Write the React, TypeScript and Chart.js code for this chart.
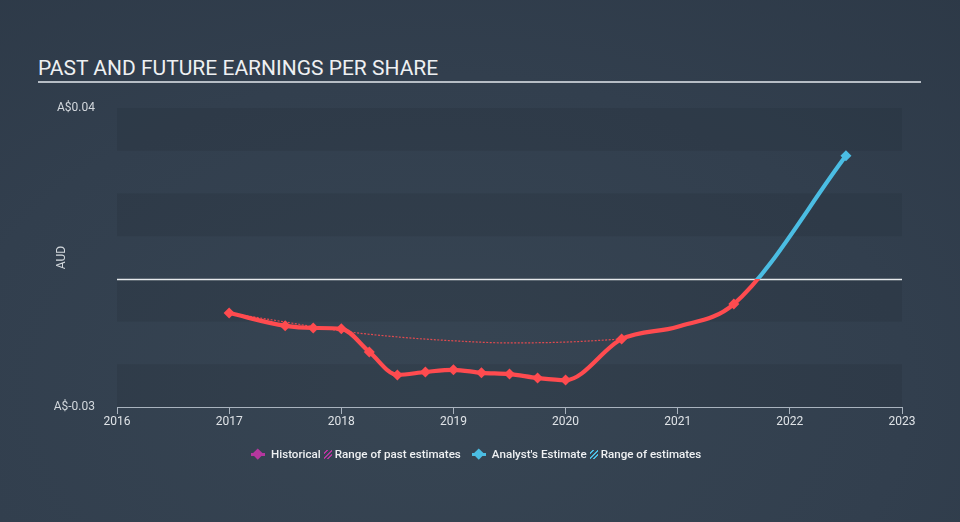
import React, { useEffect, useRef } from "react";
import { Chart, registerables } from "chart.js";

Chart.register(...registerables);

const TITLE = "PAST AND FUTURE EARNINGS PER SHARE";
const Y_AXIS_TITLE = "AUD";

const historicalYears = [2017, 2017.5, 2017.75, 2018, 2018.25, 2018.5, 2018.75, 2019, 2019.25, 2019.5, 2019.75, 2020];
const historicalEps = [-0.008, -0.011, -0.0115, -0.0117, -0.0171, -0.0225, -0.0218, -0.0213, -0.022, -0.0223, -0.0232, -0.0237];

const estimateYears = [2020.5, 2021, 2021.5, 2022.5];
const estimateEps = [-0.0141, -0.0112, -0.0059, 0.0288];
const estimateMarkers = [true, false, true, true];

const pastRangeYears = [2017, 2017.5, 2018, 2018.5, 2019, 2019.5, 2020, 2020.5];
const pastRangeEps = [-0.008, -0.0101, -0.0122, -0.0136, -0.0145, -0.015, -0.0148, -0.0141];

const yTicks = [-0.03, -0.02, -0.01, 0, 0.01, 0.02, 0.03, 0.04];
const yLabels: Record<string, string> = { "0.04": "A$0.04", "-0.03": "A$-0.03" };
const xTicks = [2016, 2017, 2018, 2019, 2020, 2021, 2022, 2023];

const RED = "#ff4b4f";
const BLUE = "#4bbde3";
const PURPLE = "#b5379f";
const BAND = "rgba(20, 28, 40, 0.13)";

const bandsPlugin = {
  id: "bands",
  beforeDraw(chart: any) {
    const { ctx, chartArea, scales } = chart;
    const y = scales.y;
    ctx.save();
    ctx.fillStyle = BAND;
    const desc = [...yTicks].sort((a, b) => b - a);
    for (let i = 0; i < desc.length - 1; i += 2) {
      const top = y.getPixelForValue(desc[i]);
      const bot = y.getPixelForValue(desc[i + 1]);
      ctx.fillRect(chartArea.left, top, chartArea.right - chartArea.left, bot - top);
    }
    ctx.restore();
  },
  beforeDatasetsDraw(chart: any) {
    const { ctx, chartArea, scales } = chart;
    const y0 = Math.round(scales.y.getPixelForValue(0)) + 0.5;
    ctx.save();
    ctx.strokeStyle = "#e6e9ec";
    ctx.lineWidth = 1.5;
    ctx.beginPath();
    ctx.moveTo(chartArea.left, y0);
    ctx.lineTo(chartArea.right, y0);
    ctx.stroke();
    ctx.restore();
  },
};

function lineColor(context: any) {
  const chart = context.chart;
  const { chartArea, scales } = chart;
  if (!chartArea || !scales.y) return RED;
  const zero = scales.y.getPixelForValue(0);
  const g = chart.ctx.createLinearGradient(0, chartArea.top, 0, chartArea.bottom);
  const t = Math.min(Math.max((zero - chartArea.top) / (chartArea.bottom - chartArea.top), 0), 1);
  g.addColorStop(0, BLUE);
  g.addColorStop(t, BLUE);
  g.addColorStop(t, RED);
  g.addColorStop(1, RED);
  return g;
}

export default function App() {
  const canvasRef = useRef<HTMLCanvasElement | null>(null);

  useEffect(() => {
    if (!canvasRef.current) return;
    const mainPoints = [
      ...historicalYears.map((x, i) => ({ x, y: historicalEps[i] })),
      ...estimateYears.map((x, i) => ({ x, y: estimateEps[i] })),
    ];
    const radii = [...historicalYears.map(() => 5.5), ...estimateMarkers.map((m) => (m ? 5.5 : 0))];
    const pointColors = mainPoints.map((p) => (p.y >= 0 ? BLUE : RED));

    const chart = new Chart(canvasRef.current, {
      type: "line",
      data: {
        datasets: [
          {
            label: "Range of past estimates",
            data: pastRangeYears.map((x, i) => ({ x, y: pastRangeEps[i] })),
            borderColor: "rgba(255, 75, 79, 0.85)",
            borderWidth: 1.2,
            borderDash: [2, 1.5],
            pointRadius: 0,
            cubicInterpolationMode: "monotone",
            fill: false,
          },
          {
            label: "EPS",
            data: mainPoints,
            borderColor: lineColor,
            borderWidth: 4.2,
            pointStyle: "rectRot",
            pointRadius: radii,
            pointHoverRadius: radii,
            pointBackgroundColor: pointColors,
            pointBorderColor: pointColors,
            pointBorderWidth: 0,
            cubicInterpolationMode: "monotone",
            fill: false,
          },
        ],
      },
      options: {
        animation: false,
        responsive: false,
        maintainAspectRatio: false,
        layout: { padding: { top: 108, right: 58, bottom: 85, left: 0 } },
        plugins: { legend: { display: false }, tooltip: { enabled: false } },
        scales: {
          x: {
            type: "linear",
            min: 2016,
            max: 2023,
            afterBuildTicks: (scale: any) => {
              scale.ticks = xTicks.map((v) => ({ value: v }));
            },
            afterFit: (scale: any) => {
              scale.height = 30;
            },
            grid: { drawOnChartArea: false, drawTicks: true, tickLength: 7, color: "#a9b3be", lineWidth: 1 },
            border: { display: true, color: "#a9b3be", width: 1 },
            ticks: {
              color: "#dfe3e7",
              font: { family: "Roboto", size: 12 },
              padding: 1,
              maxRotation: 0,
              callback: (v: any) => String(v),
            },
          },
          y: {
            type: "linear",
            min: -0.03,
            max: 0.04,
            afterBuildTicks: (scale: any) => {
              scale.ticks = yTicks.map((v) => ({ value: v }));
            },
            afterFit: (scale: any) => {
              scale.width = 117;
            },
            grid: { display: false },
            border: { display: false },
            ticks: {
              color: "#d3d8dd",
              font: { family: "Roboto", size: 12 },
              padding: 14,
              callback: (v: any) => {
                const key = String(Math.round(Number(v) * 100) / 100);
                return yLabels[key] ?? "";
              },
            },
            title: {
              display: true,
              text: Y_AXIS_TITLE,
              color: "#d3d8dd",
              font: { family: "Roboto", size: 12 },
              padding: { top: 55, bottom: 0 },
            },
          },
        },
      },
      plugins: [bandsPlugin],
    });
    return () => chart.destroy();
  }, []);

  const legendText: React.CSSProperties = { color: "#eef0f2", fontSize: 11.6, fontWeight: 500 };
  const hatch = (c: string): React.CSSProperties => ({
    display: "inline-block",
    width: 8,
    height: 9,
    margin: "0 3px 0 3px",
    background: `repeating-linear-gradient(135deg, transparent 0 2px, ${c} 2px 3.2px)`,
  });
  const marker = (c: string) => (
    <span style={{ position: "relative", display: "inline-block", width: 14, height: 12, marginRight: 6 }}>
      <span style={{ position: "absolute", left: 0, right: 0, top: 5, height: 2.5, background: c }} />
      <span
        style={{ position: "absolute", left: 3, top: 2, width: 7.5, height: 7.5, background: c, transform: "rotate(45deg)" }}
      />
    </span>
  );

  return (
    <div
      style={{
        position: "absolute",
        left: 0,
        top: 0,
        width: 960,
        height: 522,
        overflow: "hidden",
        background: "radial-gradient(ellipse 90% 110% at 45% 75%, #374553 0%, #323f4e 55%, #2c3846 100%)",
        fontFamily: "Roboto, sans-serif",
      }}
    >
      <div
        style={{
          position: "absolute",
          left: 38,
          top: 56,
          color: "#eef0f2",
          fontSize: 21,
          lineHeight: "24px",
          whiteSpace: "nowrap",
        }}
      >
        {TITLE}
      </div>
      <div style={{ position: "absolute", left: 38, top: 81, width: 883, height: 2, background: "#b6bdc5" }} />
      <canvas ref={canvasRef} width={960} height={522} style={{ position: "absolute", left: 0, top: 0 }} />
      <div
        style={{
          position: "absolute",
          left: 251,
          top: 446,
          height: 16,
          display: "flex",
          alignItems: "center",
          whiteSpace: "nowrap",
        }}
      >
        {marker(PURPLE)}
        <span style={legendText}>Historical</span>
        <span style={hatch(PURPLE)} />
        <span style={legendText}>Range of past estimates</span>
        <span style={{ display: "inline-block", width: 11 }} />
        {marker(BLUE)}
        <span style={legendText}>Analyst's Estimate</span>
        <span style={hatch(BLUE)} />
        <span style={legendText}>Range of estimates</span>
      </div>
    </div>
  );
}
